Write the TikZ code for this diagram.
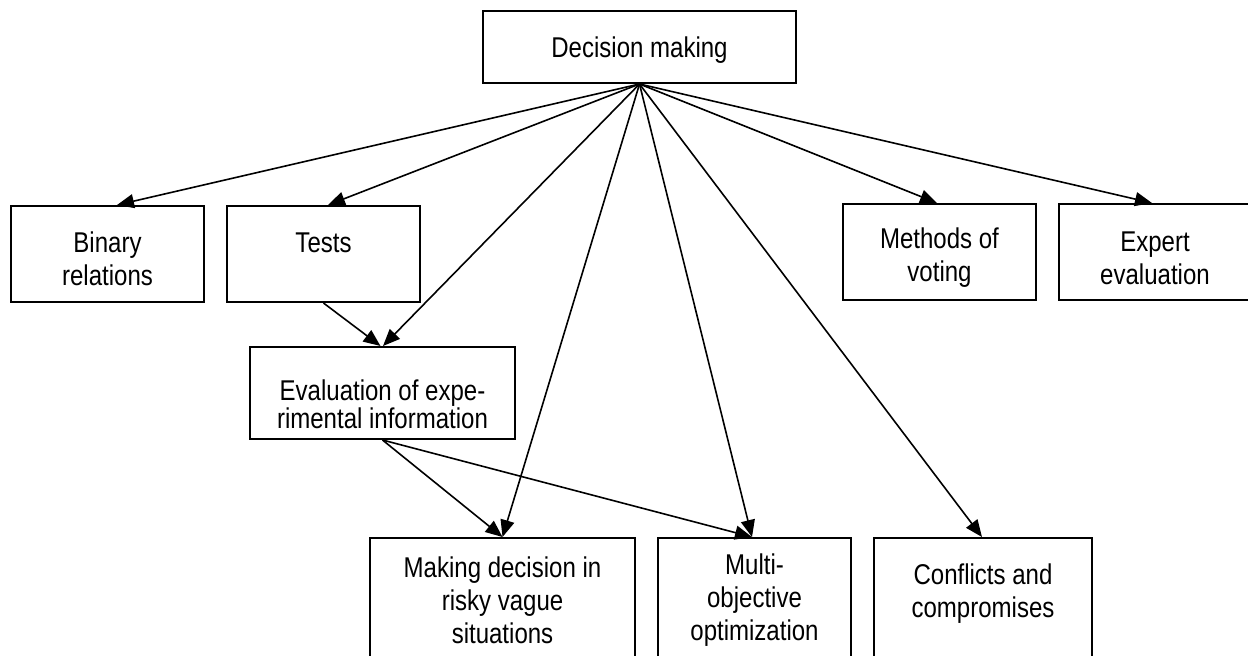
\documentclass[tikz,border=0pt]{standalone}
\usepackage{fontspec}
\setmainfont{Liberation Sans}[FakeStretch=0.84]
\usetikzlibrary{arrows.meta,calc}
\begin{document}
\begin{tikzpicture}[x=0.5pt,y=-0.5pt,
  box/.style={draw,line width=1pt,rectangle,inner sep=0pt},
  txt/.style={align=center,inner sep=0pt,font=\fontsize{14.3}{16.5}\selectfont},
  arr/.style={line width=0.8pt,-{Triangle[length=8.5pt,width=7pt]}}]
\useasboundingbox (0,0) rectangle (1248,655);
% boxes
\node[box,minimum width=156.5pt,minimum height=36pt] (dm) at (639.5,47) {};
\node[box,minimum width=96.5pt,minimum height=48pt] (bin) at (107.5,254) {};
\node[box,minimum width=96.5pt,minimum height=48pt] (tests) at (323.5,254) {};
\node[box,minimum width=96.5pt,minimum height=48pt] (vote) at (939.5,252) {};
\node[box,minimum width=96pt,minimum height=48pt] (expert) at (1155,252) {};
\node[box,minimum width=132.5pt,minimum height=46pt] (eval) at (382.5,393) {};
\node[box,minimum width=132.5pt,minimum height=66pt] (risk) at (502.5,604) {};
\node[box,minimum width=96.5pt,minimum height=66pt] (multi) at (754.5,604) {};
\node[box,minimum width=109pt,minimum height=66pt] (conf) at (983,604) {};
% texts
\node[txt] (dmt) at (639.5,50) {Decision making};
\node[txt] (bint) at (107.5,259) {Binary\\relations};
\node[txt] (testst) at (323.5,243) {Tests};
\node[txt] (votet) at (939.5,258) {Methods of\\voting};
\node[txt] (expertt) at (1155,258) {Expert\\evaluation};
\node[txt,font=\fontsize{14.3}{14}\selectfont] (evalt) at (382.5,404) {Evaluation of expe-\\rimental information};
\node[txt] (riskt) at (502.5,600) {Making decision in\\risky vague\\situations};
\node[txt] (multit) at (754.5,600) {Multi-\\objective\\optimization};
\node[txt] (conft) at (983,594) {Conflicts and\\compromises};
% arrows
\draw[arr] (dm.south) -- ([xshift=4.75pt]bin.north);
\draw[arr] (dm.south) -- ([xshift=2.25pt]tests.north);
\draw[arr] (dm.south) -- ([xshift=0.25pt]eval.north);
\draw[arr] (dm.south) -- (risk.north);
\draw[arr] (dm.south) -- ([xshift=-1.25pt]multi.north);
\draw[arr] (dm.south) -- ([xshift=-0.5pt]conf.north);
\draw[arr] (dm.south) -- ([xshift=-1.25pt]vote.north);
\draw[arr] (dm.south) -- ([xshift=-1.5pt]expert.north);
\draw[arr] (tests.south) -- ([xshift=-1pt]eval.north);
\draw[arr] (eval.south) -- (risk.north);
\draw[arr] (eval.south) -- ([xshift=-1.25pt]multi.north);
\end{tikzpicture}
\end{document}
